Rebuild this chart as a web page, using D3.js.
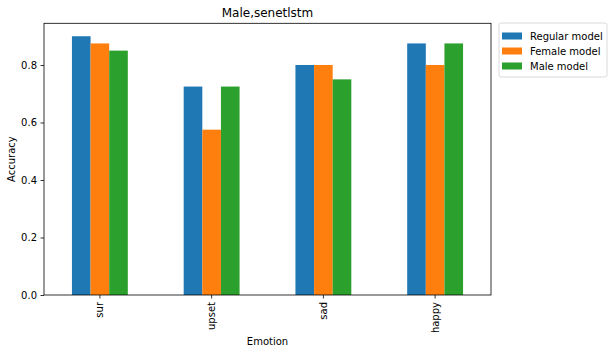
<!DOCTYPE html>
<html>
<head>
<meta charset="utf-8">
<script src="https://cdn.jsdelivr.net/npm/d3@7"></script>
<style>
  body { margin: 0; background: #fff; }
  svg { font-family: "DejaVu Sans", sans-serif; }
</style>
</head>
<body>
<div id="chart"></div>
<script>
// data
const emotions = ['sur', 'upset', 'sad', 'happy'];
const seriesNames = ['Regular model', 'Female model', 'Male model'];
const regularModel = [0.9, 0.725, 0.8, 0.875];
const femaleModel = [0.875, 0.575, 0.8, 0.8];
const maleModel = [0.85, 0.725, 0.75, 0.875];
const yTicks = [0.0, 0.2, 0.4, 0.6, 0.8];
const colors = ['#1f77b4', '#ff7f0e', '#2ca02c'];

const seriesValues = [regularModel, femaleModel, maleModel];

const width = 613, height = 354;
const margin = { top: 23.3, right: 122, bottom: 59, left: 44 };

const svg = d3.select('#chart').append('svg')
    .attr('width', width)
    .attr('height', height);

// scales
const x = d3.scaleBand()
    .domain(emotions)
    .range([margin.left, width - margin.right])
    .paddingInner(0.5)
    .paddingOuter(0.25);

const xInner = d3.scaleBand()
    .domain(seriesNames)
    .range([0, x.bandwidth()]);

const yMax = d3.max(seriesValues.flat()) * 1.05;
const y = d3.scaleLinear()
    .domain([0, yMax])
    .range([height - margin.bottom, margin.top]);

// bars
seriesNames.forEach((name, si) => {
    svg.append('g')
        .selectAll('rect')
        .data(emotions)
        .enter()
        .append('rect')
        .attr('x', d => x(d) + xInner(name))
        .attr('y', (d, i) => y(seriesValues[si][i]))
        .attr('width', xInner.bandwidth())
        .attr('height', (d, i) => y(0) - y(seriesValues[si][i]))
        .attr('fill', colors[si]);
});

// axes
const xAxis = svg.append('g')
    .attr('transform', `translate(0,${height - margin.bottom})`)
    .call(d3.axisBottom(x).tickSize(3.5).tickPadding(3.5))
    .call(g => g.select('.domain').remove());
xAxis.selectAll('.tick text')
    .attr('font-size', 10)
    .attr('font-family', 'DejaVu Sans')
    .attr('fill', '#000')
    .attr('transform', 'rotate(-90)')
    .attr('text-anchor', 'end')
    .attr('dy', '0.35em')
    .attr('x', -7)
    .attr('y', 0);
xAxis.selectAll('.tick line').attr('stroke', '#000').attr('stroke-width', 0.8);

const yAxis = svg.append('g')
    .attr('transform', `translate(${margin.left},0)`)
    .call(d3.axisLeft(y).tickValues(yTicks).tickFormat(d3.format('.1f')).tickSize(3.5).tickPadding(3.5))
    .call(g => g.select('.domain').remove());
yAxis.selectAll('.tick text')
    .attr('font-size', 10)
    .attr('font-family', 'DejaVu Sans')
    .attr('fill', '#000');
yAxis.selectAll('.tick line').attr('stroke', '#000').attr('stroke-width', 0.8);

// frame
svg.append('rect')
    .attr('x', margin.left)
    .attr('y', margin.top)
    .attr('width', width - margin.left - margin.right)
    .attr('height', height - margin.top - margin.bottom)
    .attr('fill', 'none')
    .attr('stroke', '#000')
    .attr('stroke-width', 0.8);

// titles
const cx = margin.left + (width - margin.left - margin.right) / 2;
svg.append('text')
    .attr('x', cx)
    .attr('y', 17)
    .attr('text-anchor', 'middle')
    .attr('font-size', 12)
    .text('Male,senetlstm');

svg.append('text')
    .attr('x', cx)
    .attr('y', 345)
    .attr('text-anchor', 'middle')
    .attr('font-size', 10)
    .text('Emotion');

svg.append('text')
    .attr('transform', `translate(15,${(margin.top + height - margin.bottom) / 2}) rotate(-90)`)
    .attr('text-anchor', 'middle')
    .attr('font-size', 10)
    .text('Accuracy');

// legend
const legend = svg.append('g').attr('transform', 'translate(499,23)');
legend.append('rect')
    .attr('width', 108)
    .attr('height', 54)
    .attr('rx', 2)
    .attr('fill', '#fff')
    .attr('stroke', '#d0d0d0')
    .attr('stroke-width', 0.8);
seriesNames.forEach((name, i) => {
    const row = legend.append('g').attr('transform', `translate(0,${9.5 + i * 15})`);
    row.append('rect')
        .attr('x', 3)
        .attr('y', 0)
        .attr('width', 20)
        .attr('height', 7)
        .attr('fill', colors[i]);
    row.append('text')
        .attr('x', 31)
        .attr('y', 3.5)
        .attr('dy', '0.35em')
        .attr('font-size', 10)
        .text(name);
});
</script>
</body>
</html>
